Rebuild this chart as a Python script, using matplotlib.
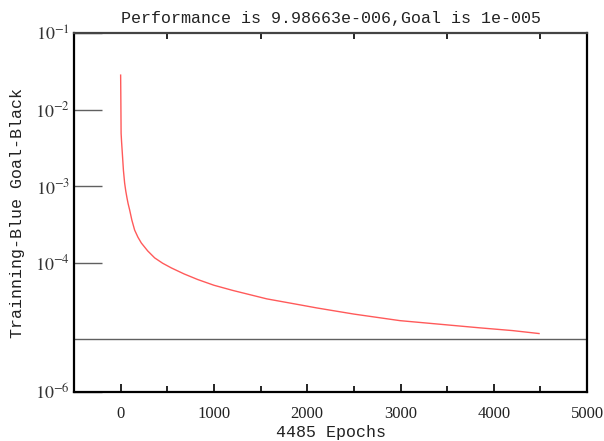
import numpy as np
import matplotlib
matplotlib.use('Agg')
import matplotlib.pyplot as plt
from matplotlib.ticker import FixedLocator, NullLocator

# 训练误差曲线
epochs = [0, 2, 5, 10, 18, 30, 43, 55, 68, 80, 97, 120, 150, 185, 222,
          290, 365, 450, 544, 680, 826, 1000, 1202, 1567, 1921, 2103,
          2500, 2994, 3400, 3852, 4200, 4485]
perf = [2.82e-2, 1.5e-2, 4.9e-3, 3.8e-3, 2.7e-3, 1.6e-3, 1.09e-3, 8.6e-4,
        7.0e-4, 5.9e-4, 4.85e-4, 3.6e-4, 2.66e-4, 2.15e-4, 1.80e-4,
        1.42e-4, 1.15e-4, 9.8e-5, 8.5e-5, 7.1e-5, 6.0e-5, 5.05e-5, 4.32e-5,
        3.35e-5, 2.8e-5, 2.55e-5, 2.12e-5, 1.74e-5, 1.57e-5, 1.40e-5,
        1.29e-5, 1.18e-5]
goal = 1e-5
title_txt = 'Performance is 9.98663e-006,Goal is 1e-005'
ylab = 'Trainning-Blue Goal-Black'
xlab = '4485 Epochs'
xticks = [0, 1000, 2000, 3000, 4000, 5000]
ybottom = 10 ** -5.693
yticks = [ybottom, 1e-4, 1e-3, 1e-2, 1e-1]
ytick_labels = ['$10^{-6}$', '$10^{-4}$', '$10^{-3}$', '$10^{-2}$', '$10^{-1}$']

plt.rcParams['mathtext.fontset'] = 'stix'
mono = 'Liberation Mono'

fig = plt.figure(figsize=(6.04, 4.41), dpi=100)
ax = fig.add_axes([0.1225, 0.111, 0.8495, 0.814])

ax.plot(epochs, perf, color='#ff5a5a', lw=1.0)
ax.axhline(goal, color='#606060', lw=1.0)

ax.set_yscale('log')
ax.set_xlim(-500, 5000)
ax.set_ylim(ybottom, 1e-1)

ax.yaxis.set_major_locator(FixedLocator(yticks))
ax.yaxis.set_minor_locator(NullLocator())
ax.set_yticklabels(ytick_labels, fontsize=13, color='#333333', family='STIXGeneral')
ax.tick_params(axis='y', which='major', direction='in', length=20, width=1,
               color='#606060', pad=3)

ax.set_xticks(xticks)
ax.set_xticklabels([str(t) for t in xticks], fontsize=12, family='Liberation Serif',
                   color='#222222')
ax.set_xticks(np.arange(500, 5000, 1000), minor=True)
ax.tick_params(axis='x', which='major', direction='in', length=6, width=1.2,
               color='black', top=False, pad=10)
ax.tick_params(axis='x', which='minor', direction='in', length=4, width=1.2,
               color='black', top=True)

for s in ['left', 'bottom', 'right']:
    ax.spines[s].set_linewidth(1.6)
    ax.spines[s].set_color('black')
ax.spines['top'].set_linewidth(1.6)
ax.spines['top'].set_color('#444444')

ax.set_title(title_txt, family=mono, fontsize=12, color='#222222', pad=7)
ax.set_ylabel(ylab, family=mono, fontsize=12, color='#222222', labelpad=7)
ax.set_xlabel(xlab, family=mono, fontsize=12, color='#222222', labelpad=2)

fig.savefig('out.png', dpi=100)
